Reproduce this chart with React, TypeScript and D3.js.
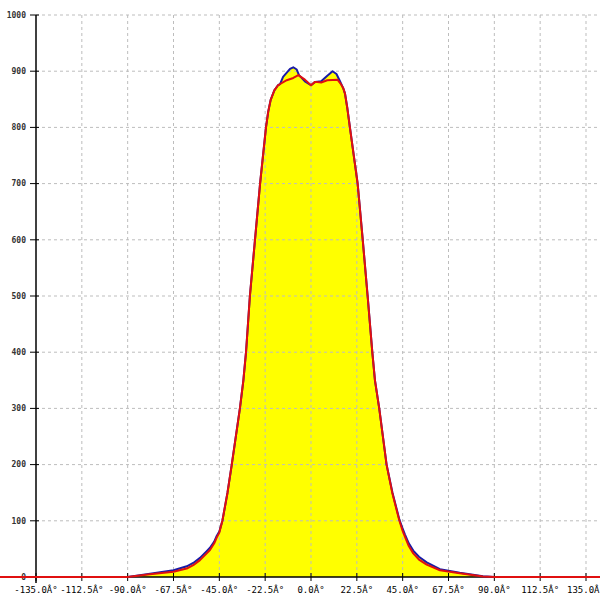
import React from "react";
import * as d3 from "d3";

const xTicks = [-135, -112.5, -90, -67.5, -45, -22.5, 0, 22.5, 45, 67.5, 90, 112.5, 135];
const yTicks = [0, 100, 200, 300, 400, 500, 600, 700, 800, 900, 1000];

const redAngles = [-180, -90, -79, -67.5, -61, -57.8, -54.5, -51.2, -49.6, -47.5, -46.3, -45, -43.5, -41, -38.9, -34.9, -33.2, -31.9, -30, -27.5, -25, -22.1, -21, -19.8, -18, -16.2, -11.9, -8.7, -6.2, -3, 0, 2, 5, 8, 13, 14.5, 15.8, 16.7, 17.8, 19.1, 22.9, 25.4, 27.8, 30.1, 31.4, 33.5, 37.1, 40, 43.4, 44.8, 46.1, 48, 50.2, 53, 56.8, 63.3, 73, 84.4, 90, 180];
const redValues = [0, 0, 5, 9.5, 15, 21, 30, 42, 48, 60, 70, 79, 100, 150, 200, 300, 350, 400, 500, 600, 700, 800, 828, 849, 866, 875, 884, 888, 893, 885, 875, 881, 880, 884, 885, 878, 870, 860, 835, 800, 700, 600, 500, 400, 350, 300, 200, 148, 100, 84, 72, 55, 42, 31, 22, 12, 6.5, 1, 0, 0];

const blueAngles = [-180, -90, -79, -67.5, -61, -57.8, -54.5, -51.2, -49.6, -47.5, -46.3, -45, -43.5, -41, -38.9, -34.9, -33.2, -31.9, -30, -27.5, -25, -22.1, -21, -19.8, -18, -16.2, -15.2, -13.7, -10.3, -8.7, -7, -5.9, -3, 0, 2, 5, 8, 10.6, 12.5, 14, 15.8, 16.7, 17.8, 19.1, 22.9, 25.4, 27.8, 30.1, 31.4, 33.5, 37.1, 40, 43.4, 44.8, 46.1, 48, 50.2, 53, 56.8, 63.3, 73, 84.4, 90, 180];
const blueValues = [0, 0, 6, 12, 19, 25, 34, 46, 52, 63, 73, 81, 100, 150, 200, 300, 350, 400, 500, 600, 700, 800, 828, 849, 866, 875, 877, 890, 904, 907, 903, 893, 882, 875, 881, 882, 892, 900, 895, 884, 870, 860, 835, 800, 700, 600, 500, 400, 350, 300, 200, 150, 102, 88, 76, 60, 47, 36, 26, 14, 7.5, 1.5, 0, 0];

const W = 600;
const H = 600;

export default function App() {
  const x = d3.scaleLinear().domain([-135, 135]).range([36, 586]);
  const y = d3.scaleLinear().domain([0, 1000]).range([577, 15]);

  const blue = blueAngles.map((a, i) => [a, blueValues[i]] as [number, number]);
  const red = redAngles.map((a, i) => [a, redValues[i]] as [number, number]);

  const line = d3.line<[number, number]>().x((d) => x(d[0])).y((d) => y(d[1]));
  const area = d3
    .area<[number, number]>()
    .x((d) => x(d[0]))
    .y0(y(0))
    .y1((d) => y(d[1]));

  const fmt = (d: number) => `${d.toFixed(1)}Â°`;
  const font = "'DejaVu Sans Mono', monospace";

  return (
    <svg
      width={W}
      height={H}
      style={{ position: "fixed", left: 0, top: 0, background: "#fff" }}
    >
      <path d={area(blue) || ""} fill="#ffff00" stroke="none" />
      {xTicks.slice(1).map((t) => (
        <line
          key={"gx" + t}
          x1={x(t)}
          x2={x(t)}
          y1={y(1000)}
          y2={y(0)}
          stroke="#bdbdbd"
          strokeDasharray="3,3"
          strokeWidth={1}
        />
      ))}
      {yTicks.slice(1).map((t) => (
        <line
          key={"gy" + t}
          x1={x(-135)}
          x2={W}
          y1={y(t)}
          y2={y(t)}
          stroke="#bdbdbd"
          strokeDasharray="3,3"
          strokeWidth={1}
        />
      ))}
      <line x1={x(-135)} x2={x(-135)} y1={y(1000)} y2={y(0) + 6} stroke="#000" strokeWidth={1.5} />
      <line x1={x(-135)} x2={W} y1={y(0)} y2={y(0)} stroke="#000" strokeWidth={1.5} />
      {yTicks.map((t) => (
        <g key={"ty" + t}>
          <line x1={x(-135) - 6} x2={x(-135) + 3} y1={y(t)} y2={y(t)} stroke="#000" strokeWidth={1} />
          <text
            x={x(-135) - 10}
            y={y(t)}
            dy="0.35em"
            textAnchor="end"
            fontFamily={font}
            fontSize={8}
            fontWeight="bold"
            fill="#333"
          >
            {t}
          </text>
        </g>
      ))}
      {xTicks.map((t) => (
        <g key={"tx" + t}>
          <line x1={x(t)} x2={x(t)} y1={y(0) - 4} y2={y(0) + 4} stroke="#000" strokeWidth={1} />
          <text
            x={x(t)}
            y={593}
            textAnchor="middle"
            fontFamily={font}
            fontSize={9}
            fill="#000"
          >
            {fmt(t)}
          </text>
        </g>
      ))}
      <path d={line(blue) || ""} fill="none" stroke="#1a1aa6" strokeWidth={2} strokeLinejoin="round" />
      <path d={line(red) || ""} fill="none" stroke="#e01010" strokeWidth={2} strokeLinejoin="round" />
    </svg>
  );
}
